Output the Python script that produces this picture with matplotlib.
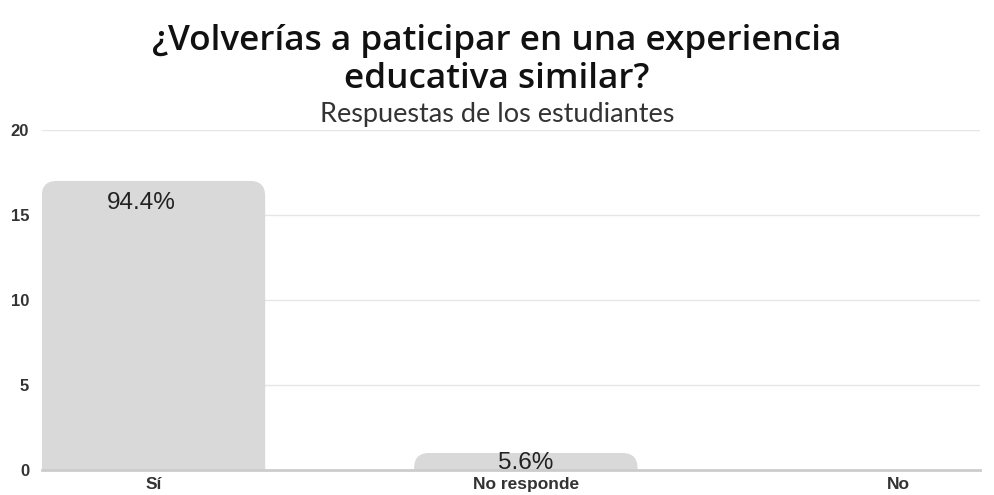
import matplotlib
matplotlib.use("Agg")
import matplotlib.pyplot as plt
from matplotlib.patches import FancyBboxPatch

# datos
categorias = ["Sí", "No responde", "No"]
respuestas = [17, 1, 0]
porcentajes = ["94.4%", "5.6%", ""]
yticks = [0, 5, 10, 15, 20]

fig = plt.figure(figsize=(9.94, 4.95), dpi=100)
ax = fig.add_axes([0.042, 0.0505, 0.944, 0.687])

x = list(range(len(categorias)))
bars = ax.bar(x, respuestas, width=0.6, color="none")
ax.set_xlim(-0.3, 2.22)
ax.set_ylim(0, 20)

# barras con esquinas redondeadas arriba
fig.canvas.draw()
bb = ax.get_window_extent()
px_x = bb.width / (2.22 + 0.3)
px_y = bb.height / 20
radio_px = 15
for b in bars:
    h = b.get_height()
    if h <= 0:
        continue
    rx = radio_px / px_x
    ry = radio_px / px_y
    p = FancyBboxPatch((b.get_x(), -ry), b.get_width(), h + ry,
                       boxstyle="round,pad=0,rounding_size=%f" % rx,
                       mutation_aspect=ry / rx,
                       facecolor="#d9d9d9", edgecolor="none", zorder=2)
    ax.add_patch(p)

for xi, v, lab in zip(x, respuestas, porcentajes):
    if lab:
        ypos = v - min(1.3, 0.6 * v)
        ax.text(xi - 0.032 if v > 5 else xi, ypos, lab, ha="center", va="center",
                fontsize=17.5, color="#222222", family="Liberation Sans", zorder=3)

ax.set_yticks(yticks)
ax.set_xticks(x)
ax.set_xticklabels(categorias, fontsize=12.5, fontweight="bold", color="#333333",
                   family="Liberation Sans")
for t in ax.get_yticklabels():
    t.set_fontsize(12)
    t.set_fontweight("bold")
    t.set_color("#333333")
    t.set_family("Liberation Sans")
ax.tick_params(axis="y", length=0, pad=9)
ax.tick_params(axis="x", length=0, pad=5)
ax.grid(axis="y", color="#e6e6e6", linewidth=1)
ax.set_axisbelow(True)
for s in ["top", "right", "left"]:
    ax.spines[s].set_visible(False)
ax.spines["bottom"].set_color("#cccccc")
ax.spines["bottom"].set_linewidth(2)

fig.text(0.5, 0.878, "¿Volverías a paticipar en una experiencia\neducativa similar?",
         ha="center", va="center", fontsize=25.3, fontweight=600, family="Open Sans",
         linespacing=1.15, color="#111111")
fig.text(0.5, 0.768, "Respuestas de los estudiantes", ha="center", va="center",
         fontsize=19.5, family="Lato", color="#333333")

fig.savefig("out.png", dpi=100)
